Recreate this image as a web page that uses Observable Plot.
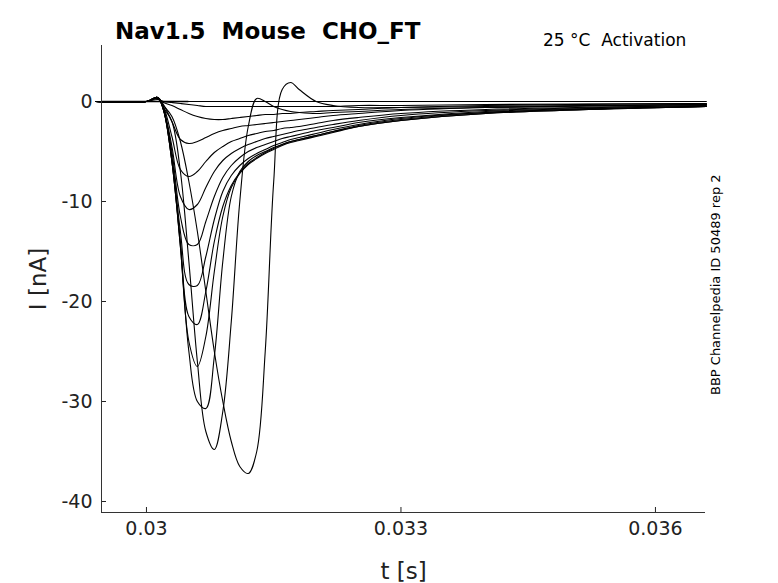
<!DOCTYPE html>
<html><head><meta charset="utf-8">
<script src="https://cdn.jsdelivr.net/npm/d3@7"></script>
<script src="https://cdn.jsdelivr.net/npm/@observablehq/plot@0.6"></script>
<style>
body{margin:0;background:#fff;font-family:"DejaVu Sans",sans-serif;}
#wrap{position:relative;width:778px;height:583px;}
.t{position:absolute;white-space:pre;}
</style></head><body>
<div id="wrap">
<div class="t" style="left:115px;top:18px;font-size:23px;font-weight:bold;">Nav1.5  Mouse  CHO_FT</div>
<div class="t" style="left:543px;top:30px;font-size:17px;">25 °C  Activation</div>
<div class="t" style="left:708px;top:395px;font-size:13px;transform:rotate(-90deg);transform-origin:0 0;">BBP Channelpedia ID 50489 rep 2</div>
</div>
<script>
const T = [0.0294,0.0300,0.03013,0.0302,0.0303,0.0304,0.0305,0.0306,0.0307,0.0308,0.0309,0.0310,0.0311,0.0312,0.0313,0.0314,0.0315,0.0316,0.0317,0.0318,0.0320,0.0322,0.0325,0.0330,0.0340,0.0366];
const trace0 = [0,0,0,0,0,0,0,0,0,0,0,0,0,0,0,0,0,0,0,0,0,0,0,0,0,0];
const traceA = [0,0,0.2,0,-0.1,-0.2,-0.3,-0.4,-0.5,-0.5,-0.5,-0.5,-0.5,-0.5,-0.5,-0.5,-0.5,-0.5,-0.5,-0.5,-0.5,-0.5,-0.4,-0.4,-0.3,-0.2];
const traceB = [0,0,0.3,-0.1,-0.4,-0.8,-1.2,-1.5,-1.7,-1.8,-1.8,-1.7,-1.6,-1.5,-1.4,-1.3,-1.3,-1.2,-1.2,-1.1,-1.0,-0.9,-0.8,-0.6,-0.4,-0.2];
const traceC = [0,0,0.4,-0.3,-2,-3.8,-4.2,-4.0,-3.6,-3.2,-2.9,-2.7,-2.5,-2.4,-2.3,-2.2,-2.1,-2.0,-1.9,-1.8,-1.6,-1.4,-1.2,-0.9,-0.6,-0.3];
const traceD = [0,0,0.4,-0.5,-3.5,-6.8,-7.5,-7.0,-6.0,-5.1,-4.5,-4.0,-3.7,-3.4,-3.2,-3.0,-2.9,-2.7,-2.6,-2.5,-2.2,-1.9,-1.6,-1.2,-0.8,-0.4];
const traceE = [0,0,0.4,-0.7,-4.5,-9.5,-10.8,-10.3,-8.6,-7.0,-5.9,-5.2,-4.7,-4.3,-4.0,-3.7,-3.5,-3.3,-3.1,-2.9,-2.6,-2.3,-1.9,-1.4,-0.9,-0.4];
const traceF = [0,0,0.4,-0.8,-5,-11.5,-14.3,-14.3,-12,-9.5,-7.6,-6.4,-5.6,-5.0,-4.6,-4.3,-4.0,-3.7,-3.5,-3.3,-2.9,-2.6,-2.1,-1.6,-1.0,-0.5];
const traceG = [0,0,0.4,-0.8,-5.5,-13,-18.3,-18.4,-15.5,-11.8,-9.0,-7.4,-6.4,-5.7,-5.2,-4.8,-4.4,-4.1,-3.8,-3.6,-3.2,-2.8,-2.3,-1.7,-1.1,-0.5];
const traceH = [0,0,0.4,-0.8,-6,-14,-21.5,-22.3,-19,-14,-10.5,-8.4,-7.1,-6.2,-5.6,-5.1,-4.7,-4.3,-4.0,-3.8,-3.4,-3.0,-2.4,-1.8,-1.1,-0.5];
const traceI = [0,0,0.4,-0.8,-6,-14.5,-24,-26.5,-23.5,-17,-11.5,-8.6,-7.2,-6.3,-5.7,-5.2,-4.8,-4.4,-4.1,-3.9,-3.5,-3.1,-2.5,-1.9,-1.2,-0.5];
const traceJ = [0,0,0.4,-0.8,-6,-14.5,-25,-30,-30.7,-25.5,-16,-9.5,-7.0,-6.0,-5.4,-5.0,-4.6,-4.3,-4.0,-3.8,-3.4,-3.0,-2.5,-1.9,-1.2,-0.5];
const traceK = [0,0,0.4,-0.6,-2,-7,-16,-26,-33,-34.8,-31,-22,-10,-2.5,0.3,0,-0.5,-0.8,-1,-1.1,-1.2,-1.1,-1,-0.8,-0.6,-0.3];
const traceL = [0,0,0.3,-0.4,-1.5,-4,-8,-13,-19,-25,-30,-34,-36.5,-37.2,-35,-25,-8,1.2,1.9,1.2,0,-0.4,-0.6,-0.6,-0.5,-0.3];
const traces = [trace0,traceA,traceB,traceC,traceD,traceE,traceF,traceG,traceH,traceI,traceJ,traceK,traceL];
const data = traces.flatMap((v,k)=>v.map((y,i)=>({t:T[i],y,k})));
const xTicks = [0.030,0.033,0.036];
const yTicks = [-40,-30,-20,-10,0];
const chart = Plot.plot({
  width:778,height:583,marginLeft:101,marginRight:73,marginTop:45,marginBottom:71,
  style:{fontFamily:"DejaVu Sans",fontSize:"19px",color:"#222"},
  x:{domain:[0.02947,0.03659],ticks:xTicks,tickFormat:d=>String(+d.toFixed(3)),label:"t [s]",labelArrow:"none",labelAnchor:"center",labelOffset:66,tickSize:-5,tickPadding:14},
  y:{domain:[-41.1,5.6],ticks:yTicks,tickFormat:d=>String(d),label:"I [nA]",labelArrow:"none",labelAnchor:"center",labelOffset:72,tickSize:-5,tickPadding:14},
  marks:[
    Plot.line(data,{x:"t",y:"y",z:"k",stroke:"black",strokeWidth:1.1,curve:"catmull-rom"}),
    Plot.ruleY([0],{x1:0.02947,x2:0.0305,stroke:"black",strokeWidth:1.6}),
    Plot.ruleX([0.02947],{stroke:"#333"}),
    Plot.ruleY([-41.1],{stroke:"#333"})
  ]
});
chart.style.position="absolute";chart.style.left="0";chart.style.top="0";
document.getElementById("wrap").prepend(chart);
chart.querySelectorAll("[aria-label='x-axis label'] text, [aria-label='y-axis label'] text").forEach(e=>e.style.fontSize="23px");
</script>
</body></html>
